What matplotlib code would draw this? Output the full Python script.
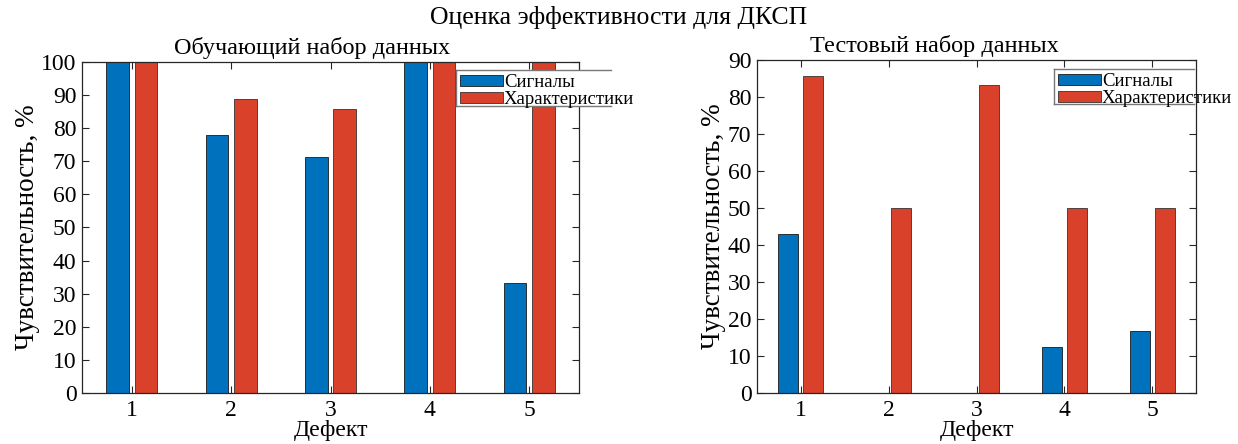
import numpy as np
import matplotlib
matplotlib.use("Agg")
import matplotlib.pyplot as plt
from matplotlib.lines import Line2D
from matplotlib.patches import Rectangle

plt.rcParams['font.family'] = ['Liberation Serif', 'DejaVu Serif']

defects = [1, 2, 3, 4, 5]
series_names = ["Сигналы", "Характеристики"]

train_signals = [100.0, 77.8, 71.4, 100.0, 33.3]
train_features = [100.0, 88.9, 85.7, 100.0, 100.0]

test_signals = [42.9, 0.0, 0.0, 12.5, 16.7]
test_features = [85.7, 50.0, 83.3, 50.0, 50.0]

suptitle = "Оценка эффективности для ДКСП"
titles = ["Обучающий набор данных", "Тестовый набор данных"]
xlabel = "Дефект"
ylabel = "Чувствительность, %"

BLUE = "#0072BD"
RED = "#D9412B"
W, H = 1238, 444

fig = plt.figure(figsize=(W / 100, H / 100), dpi=100)


def px(x0, y0, x1, y1):
    return [x0 / W, 1 - y1 / H, (x1 - x0) / W, (y1 - y0) / H]


# grouped bar layout: two series per group
n = 2
group_w = min(0.8, n / (n + 1.5))
bar_w = group_w / n * 0.8
offsets = [-group_w / 4, group_w / 4]


def draw(ax, sig, feat, ymax, title, title_x):
    x = np.array(defects, dtype=float)
    ax.bar(x + offsets[0], sig, width=bar_w, color=BLUE, edgecolor="#1a1a1a",
           linewidth=0.6, zorder=2)
    ax.bar(x + offsets[1], feat, width=bar_w, color=RED, edgecolor="#333333",
           linewidth=0.6, zorder=2)
    ax.set_xlim(0.5, 5.5)
    ax.set_ylim(0, ymax)
    ax.set_xticks(defects)
    ax.set_yticks(np.arange(0, ymax + 1, 10))
    ax.tick_params(direction="in", length=5, width=0.8, top=True, right=True,
                   labelsize=17, color="#262626")
    ax.tick_params(axis="x", pad=5)
    ax.tick_params(axis="y", pad=4)
    for s in ax.spines.values():
        s.set_color("#262626")
        s.set_linewidth(0.9)
        s.set_zorder(3)
    ax.set_title(title, fontsize=17.5, pad=6, x=title_x)
    ax.set_xlabel(xlabel, fontsize=17, labelpad=-1)
    ax.set_ylabel(ylabel, fontsize=19.5, labelpad=1)


ax1 = fig.add_axes(px(82, 62, 579, 393))
draw(ax1, train_signals, train_features, 100, titles[0], 0.463)
ax2 = fig.add_axes(px(757, 60, 1196, 393))
draw(ax2, test_signals, test_features, 90, titles[1], 0.403)

fig.suptitle(suptitle, fontsize=18.5, y=1 - 6 / H, va="top")


def legend_box(x0, y0, x1, y1):
    # white backing and an open-sided frame
    fig.add_artist(Rectangle((x0 / W, 1 - y1 / H), (x1 - x0) / W, (y1 - y0) / H,
                             transform=fig.transFigure, facecolor="white",
                             edgecolor="none", zorder=5))
    for (xa, ya, xb, yb) in [(x0, y0, x1, y0), (x0, y1, x1, y1), (x0, y0, x0, y1)]:
        fig.add_artist(Line2D([xa / W, xb / W], [1 - ya / H, 1 - yb / H],
                              transform=fig.transFigure, color="#777777",
                              linewidth=1.0, zorder=6))
    handles = [Rectangle((0, 0), 1, 1, facecolor=BLUE, edgecolor="#1a1a1a", linewidth=0.6),
               Rectangle((0, 0), 1, 1, facecolor=RED, edgecolor="#333333", linewidth=0.6)]
    leg = fig.legend(handles, series_names, loc="upper left",
                     bbox_to_anchor=((x0 + 1) / W, 1 - (y0 + 1) / H),
                     frameon=False, fontsize=13.5, handlelength=2.3,
                     handleheight=0.55, handletextpad=0.05, labelspacing=0.0,
                     borderpad=0.15, borderaxespad=0)
    leg.set_zorder(7)


legend_box(456, 70, 611, 106)
legend_box(1054, 69, 1194, 104)

fig.savefig("out.png", dpi=100)
